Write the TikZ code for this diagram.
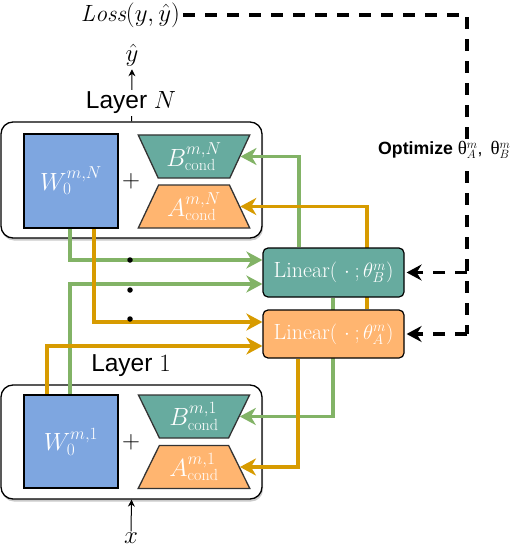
\documentclass[tikz,border=0pt]{standalone}
\usepackage{fontspec}
\setsansfont{Liberation Sans}
\newfontfamily\thetafont{Liberation Serif}
\usetikzlibrary{arrows.meta,shapes.geometric,shadows}
\pgfdeclarelayer{background}
\pgfdeclarelayer{connectors}
\pgfsetlayers{background,connectors,main}
\definecolor{wblue}{HTML}{7EA6E0}
\definecolor{tealfill}{HTML}{67AB9F}
\definecolor{orfill}{HTML}{FFB570}
\definecolor{gline}{HTML}{82B366}
\definecolor{oline}{HTML}{D79B00}
\tikzset{
  layerbox/.style={draw=black, line width=1.3pt, rounded corners=12pt, fill=white, minimum width=261pt,
    drop shadow={shadow xshift=1pt, shadow yshift=-2.5pt, opacity=0.35, fill=black!60}},
  wbox/.style={draw=black, line width=1.3pt, fill=wblue, minimum width=94pt, minimum height=94pt,
    text=white, inner sep=0pt, font=\fontsize{25}{29}\selectfont},
  trapB/.style={trapezium, trapezium stretches=true, trapezium left angle=118.7, trapezium right angle=118.7,
    draw=black!80, line width=1.3pt, fill=tealfill, minimum width=112pt, minimum height=43pt,
    text=white, inner sep=0pt, font=\fontsize{23}{27}\selectfont},
  trapA/.style={trapB, trapezium left angle=61.3, trapezium right angle=61.3, fill=orfill},
  linbox/.style={draw=black, line width=1.2pt, rounded corners=5pt, minimum width=141pt, minimum height=49pt,
    text=white, inner sep=0pt, font=\fontsize{22}{26}\selectfont},
  gconn/.style={draw=gline, line width=3.4pt, -{Stealth[length=16pt,width=17pt,inset=5pt]}},
  oconn/.style={gconn, draw=oline},
  dconn/.style={draw=black, line width=3.4pt, dash pattern=on 12pt off 10pt,
    -{Stealth[length=15pt,width=16pt,inset=5pt]}, shorten >=2pt},
  dline/.style={draw=black, line width=3.4pt, dash pattern=on 12pt off 10pt},
  thinarrow/.style={draw=black, line width=1pt, -{Stealth[length=7pt,width=7pt]}},
  mathlabel/.style={font=\fontsize{23.5}{27}\selectfont, inner sep=3pt},
  layerlabel/.style={fill=white, font=\fontsize{24.5}{28}\selectfont\sffamily, inner sep=2pt},
  ellipsisdot/.style={circle, fill=black, inner sep=0pt, minimum size=5.5pt},
}
\begin{document}
\begin{tikzpicture}[x=1pt, y=-1pt]
\useasboundingbox (0,0) rectangle (528,548);

% layer boxes
\begin{pgfonlayer}{background}
\node[layerbox, minimum height=116pt] (layerN) at (131.5,180) {};
\node[layerbox, minimum height=114pt] (layer1) at (131.5,442) {};
\end{pgfonlayer}

% top labels
\node[mathlabel] (loss) at (130.5,15) {$\mathit{Loss}(y,\hat{y})$};
\node[mathlabel] (yhat) at (132,55) {$\hat{y}$};
\node[layerlabel] (labelN) at (131,103) {Layer $N$};
\node[layerlabel] (label1) at (131,366) {Layer $1$};
\node[mathlabel, inner sep=1pt] (xlab) at (131,538) {$x$};

% layer N contents
\node[wbox] (WN) at (71,181) {$W_0^{m,N}$};
\node[font=\fontsize{25}{29}\selectfont] (plusN) at (131,181) {$+$};
\node[trapB] (BN) at (194,156.5) {$B_{\mathrm{cond}}^{m,N}$};
\node[trapA] (AN) at (194,206.5) {$A_{\mathrm{cond}}^{m,N}$};

% layer 1 contents
\node[wbox, minimum height=93pt] (W1) at (71,441.5) {$W_0^{m,1}$};
\node[font=\fontsize{25}{29}\selectfont] (plus1) at (131,442) {$+$};
\node[trapB] (B1) at (194,416.5) {$B_{\mathrm{cond}}^{m,1}$};
\node[trapA] (A1) at (194,467) {$A_{\mathrm{cond}}^{m,1}$};

% linear boxes
\node[linbox, fill=tealfill] (LB) at (333.5,272.5) {$\mathrm{Linear}(\mkern6mu\cdot\mkern4mu;\theta_B^m)$};
\node[linbox, fill=orfill, minimum height=48pt] (LA) at (333.5,334) {$\mathrm{Linear}(\mkern6mu\cdot\mkern4mu;\theta_A^m)$};

% optimize label
\node[fill=white, anchor=west, inner sep=2pt, font=\fontsize{17.7}{21}\selectfont\sffamily] (opt) at (376,150)
  {\textbf{Optimize} {\thetafont\fontsize{19}{21}\selectfont θ}$_A^m$, \,{\thetafont\fontsize{19}{21}\selectfont θ}$_B^m$};

% bend coordinates
\coordinate (c1) at (70,260);
\coordinate (c2) at (70,284);
\coordinate (c3) at (94,322);
\coordinate (c4) at (47,346);
\coordinate (c5) at (299,0);
\coordinate (c6) at (367,0);
\coordinate (c7) at (333,0);
\coordinate (c8) at (298,0);
\coordinate (c9) at (467,0);

\begin{pgfonlayer}{connectors}
\draw[gconn] (WN.south -| c1) |- (LB.west |- c1);
\draw[gconn] (W1.north -| c2) |- (LB.west |- c2);
\draw[oconn] (WN.south -| c3) |- (LA.west |- c3);
\draw[oconn] (W1.north -| c4) |- (LA.west |- c4);
\draw[gconn] (LB.north -| c5) |- (BN.east);
\draw[oconn] (LA.north -| c6) |- (AN.east);
\draw[gconn] (LB.south -| c7) |- (B1.east);
\draw[oconn] (LA.south -| c8) |- (A1.east);
\draw[thinarrow] (layerN.north) -- (yhat.south);
\draw[thinarrow] (xlab.north) -- (layer1.south);
\draw[dline] (loss.east) -| (LA.east -| c9);
\draw[dconn] (LA.east -| c9) -- (LA.east);
\draw[dconn] (LB.east -| c9) -- (LB.east);
\end{pgfonlayer}

% ellipsis dots
\node[ellipsisdot] (d1) at (130,260) {};
\node[ellipsisdot] (d2) at (130,290) {};
\node[ellipsisdot] (d3) at (130,319) {};
\end{tikzpicture}
\end{document}
